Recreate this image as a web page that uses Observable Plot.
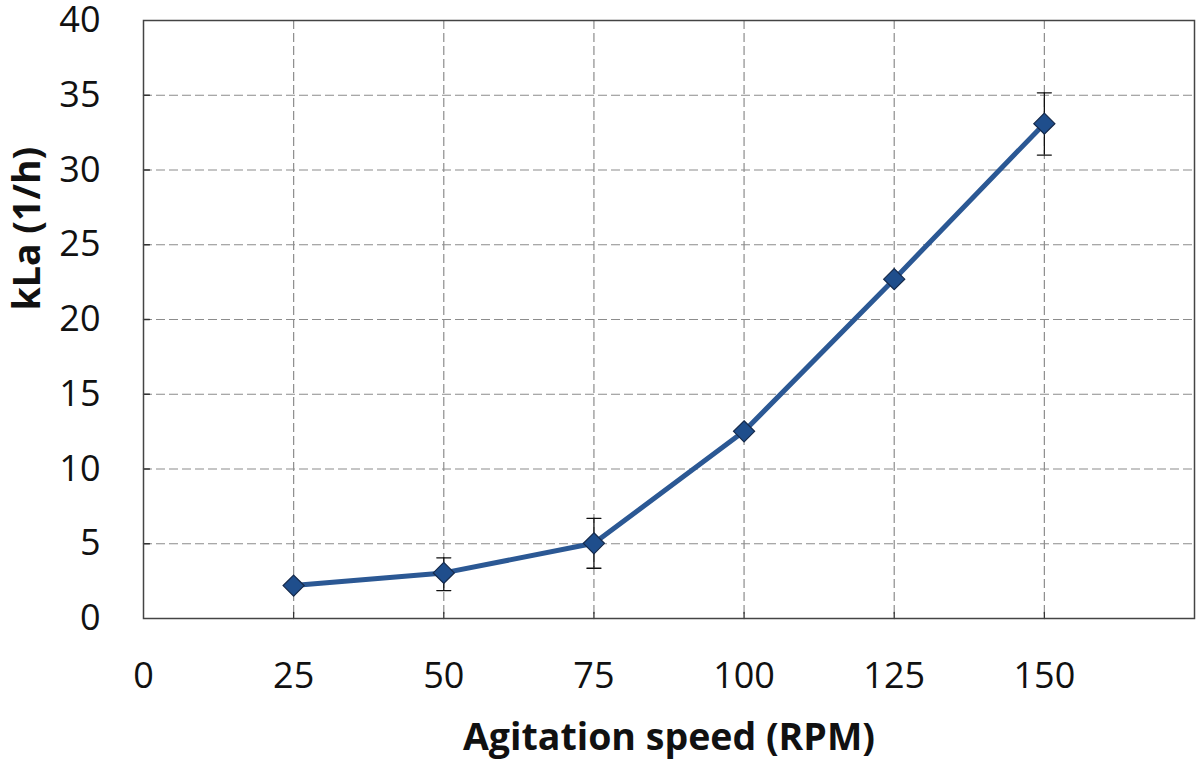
<!DOCTYPE html>
<html>
<head>
<meta charset="utf-8">
<script src="https://cdn.jsdelivr.net/npm/d3@7"></script>
<script src="https://cdn.jsdelivr.net/npm/@observablehq/plot@0.6"></script>
<style>
  html, body { margin: 0; padding: 0; background: #fff; }
  #chart svg { display: block; }
</style>
</head>
<body>
<div id="chart"></div>
<script>
// Data
const speeds = [25, 50, 75, 100, 125, 150];
const kla = [2.2, 3.05, 5.03, 12.52, 22.7, 33.1];
const errLow = [null, 1.87, 3.36, null, null, 31.0];
const errHigh = [null, 4.06, 6.7, null, null, 35.16];
const xTickLabels = [0, 25, 50, 75, 100, 125, 150];
const yTickLabels = [0, 5, 10, 15, 20, 25, 30, 35, 40];
const xGrid = [25, 50, 75, 100, 125, 150];
const yGrid = [5, 10, 15, 20, 25, 30, 35];
const xTitle = "Agitation speed (RPM)";
const yTitle = "kLa (1/h)";

const rows = speeds.map((s, i) => ({speed: s, kla: kla[i], lo: errLow[i], hi: errHigh[i]}));
const errRows = rows.filter(d => d.lo != null);

const lineShape = {
  draw(context, l) { context.moveTo(0, 0); context.lineTo(0, -l); }
};

const chart = Plot.plot({
  width: 1200,
  height: 765,
  marginLeft: 143,
  marginRight: 6,
  marginTop: 20,
  marginBottom: 147,
  style: {fontFamily: "'Open Sans', sans-serif", background: "#fff", color: "#111"},
  x: {domain: [0, 175]},
  y: {domain: [0, 40]},
  marks: [
    Plot.gridX(xGrid, {stroke: "#8c8c8c", strokeOpacity: 1, strokeWidth: 1.2, strokeDasharray: "9,4"}),
    Plot.gridY(yGrid, {stroke: "#8c8c8c", strokeOpacity: 1, strokeWidth: 1.2, strokeDasharray: "9,4"}),
    Plot.vector(xGrid, {x: d => d, frameAnchor: "bottom", length: 6, rotate: 0, anchor: "start", shape: lineShape, stroke: "#333", strokeWidth: 1.3, fill: "none"}),
    Plot.vector(yGrid, {y: d => d, frameAnchor: "left", length: 6, rotate: 90, anchor: "start", shape: lineShape, stroke: "#333", strokeWidth: 1.3, fill: "none"}),
    Plot.frame({stroke: "#444", strokeWidth: 1.5}),
    Plot.axisX(xTickLabels, {tickSize: 0, tickPadding: 44, fontSize: 36, label: null, fill: "#111"}),
    Plot.axisY(yTickLabels, {tickSize: 0, tickPadding: 43, fontSize: 36, label: null, fill: "#111"}),
    Plot.ruleX(errRows, {x: "speed", y1: "lo", y2: "hi", stroke: "#111", strokeWidth: 1.3}),
    Plot.vector(errRows, {x: "speed", y: "lo", length: 14, rotate: 90, anchor: "middle", shape: lineShape, stroke: "#111", strokeWidth: 1.3, fill: "none"}),
    Plot.vector(errRows, {x: "speed", y: "hi", length: 14, rotate: 90, anchor: "middle", shape: lineShape, stroke: "#111", strokeWidth: 1.3, fill: "none"}),
    Plot.line(rows, {x: "speed", y: "kla", stroke: "#2b5894", strokeWidth: 5, strokeLinejoin: "round"}),
    Plot.dot(rows, {x: "speed", y: "kla", symbol: "diamond2", r: 9.5, fill: "#1f4e8c", stroke: "#15294a", strokeWidth: 1.2}),
    Plot.text([xTitle], {text: d => d, frameAnchor: "bottom", dy: 131, fontSize: 37.5, fontWeight: "bold", fill: "#111"}),
    Plot.text([yTitle], {text: d => d, frameAnchor: "left", dx: -116, dy: -9, rotate: -90, fontSize: 37.5, fontWeight: "bold", fill: "#111"})
  ]
});
document.getElementById("chart").appendChild(chart);
</script>
</body>
</html>
